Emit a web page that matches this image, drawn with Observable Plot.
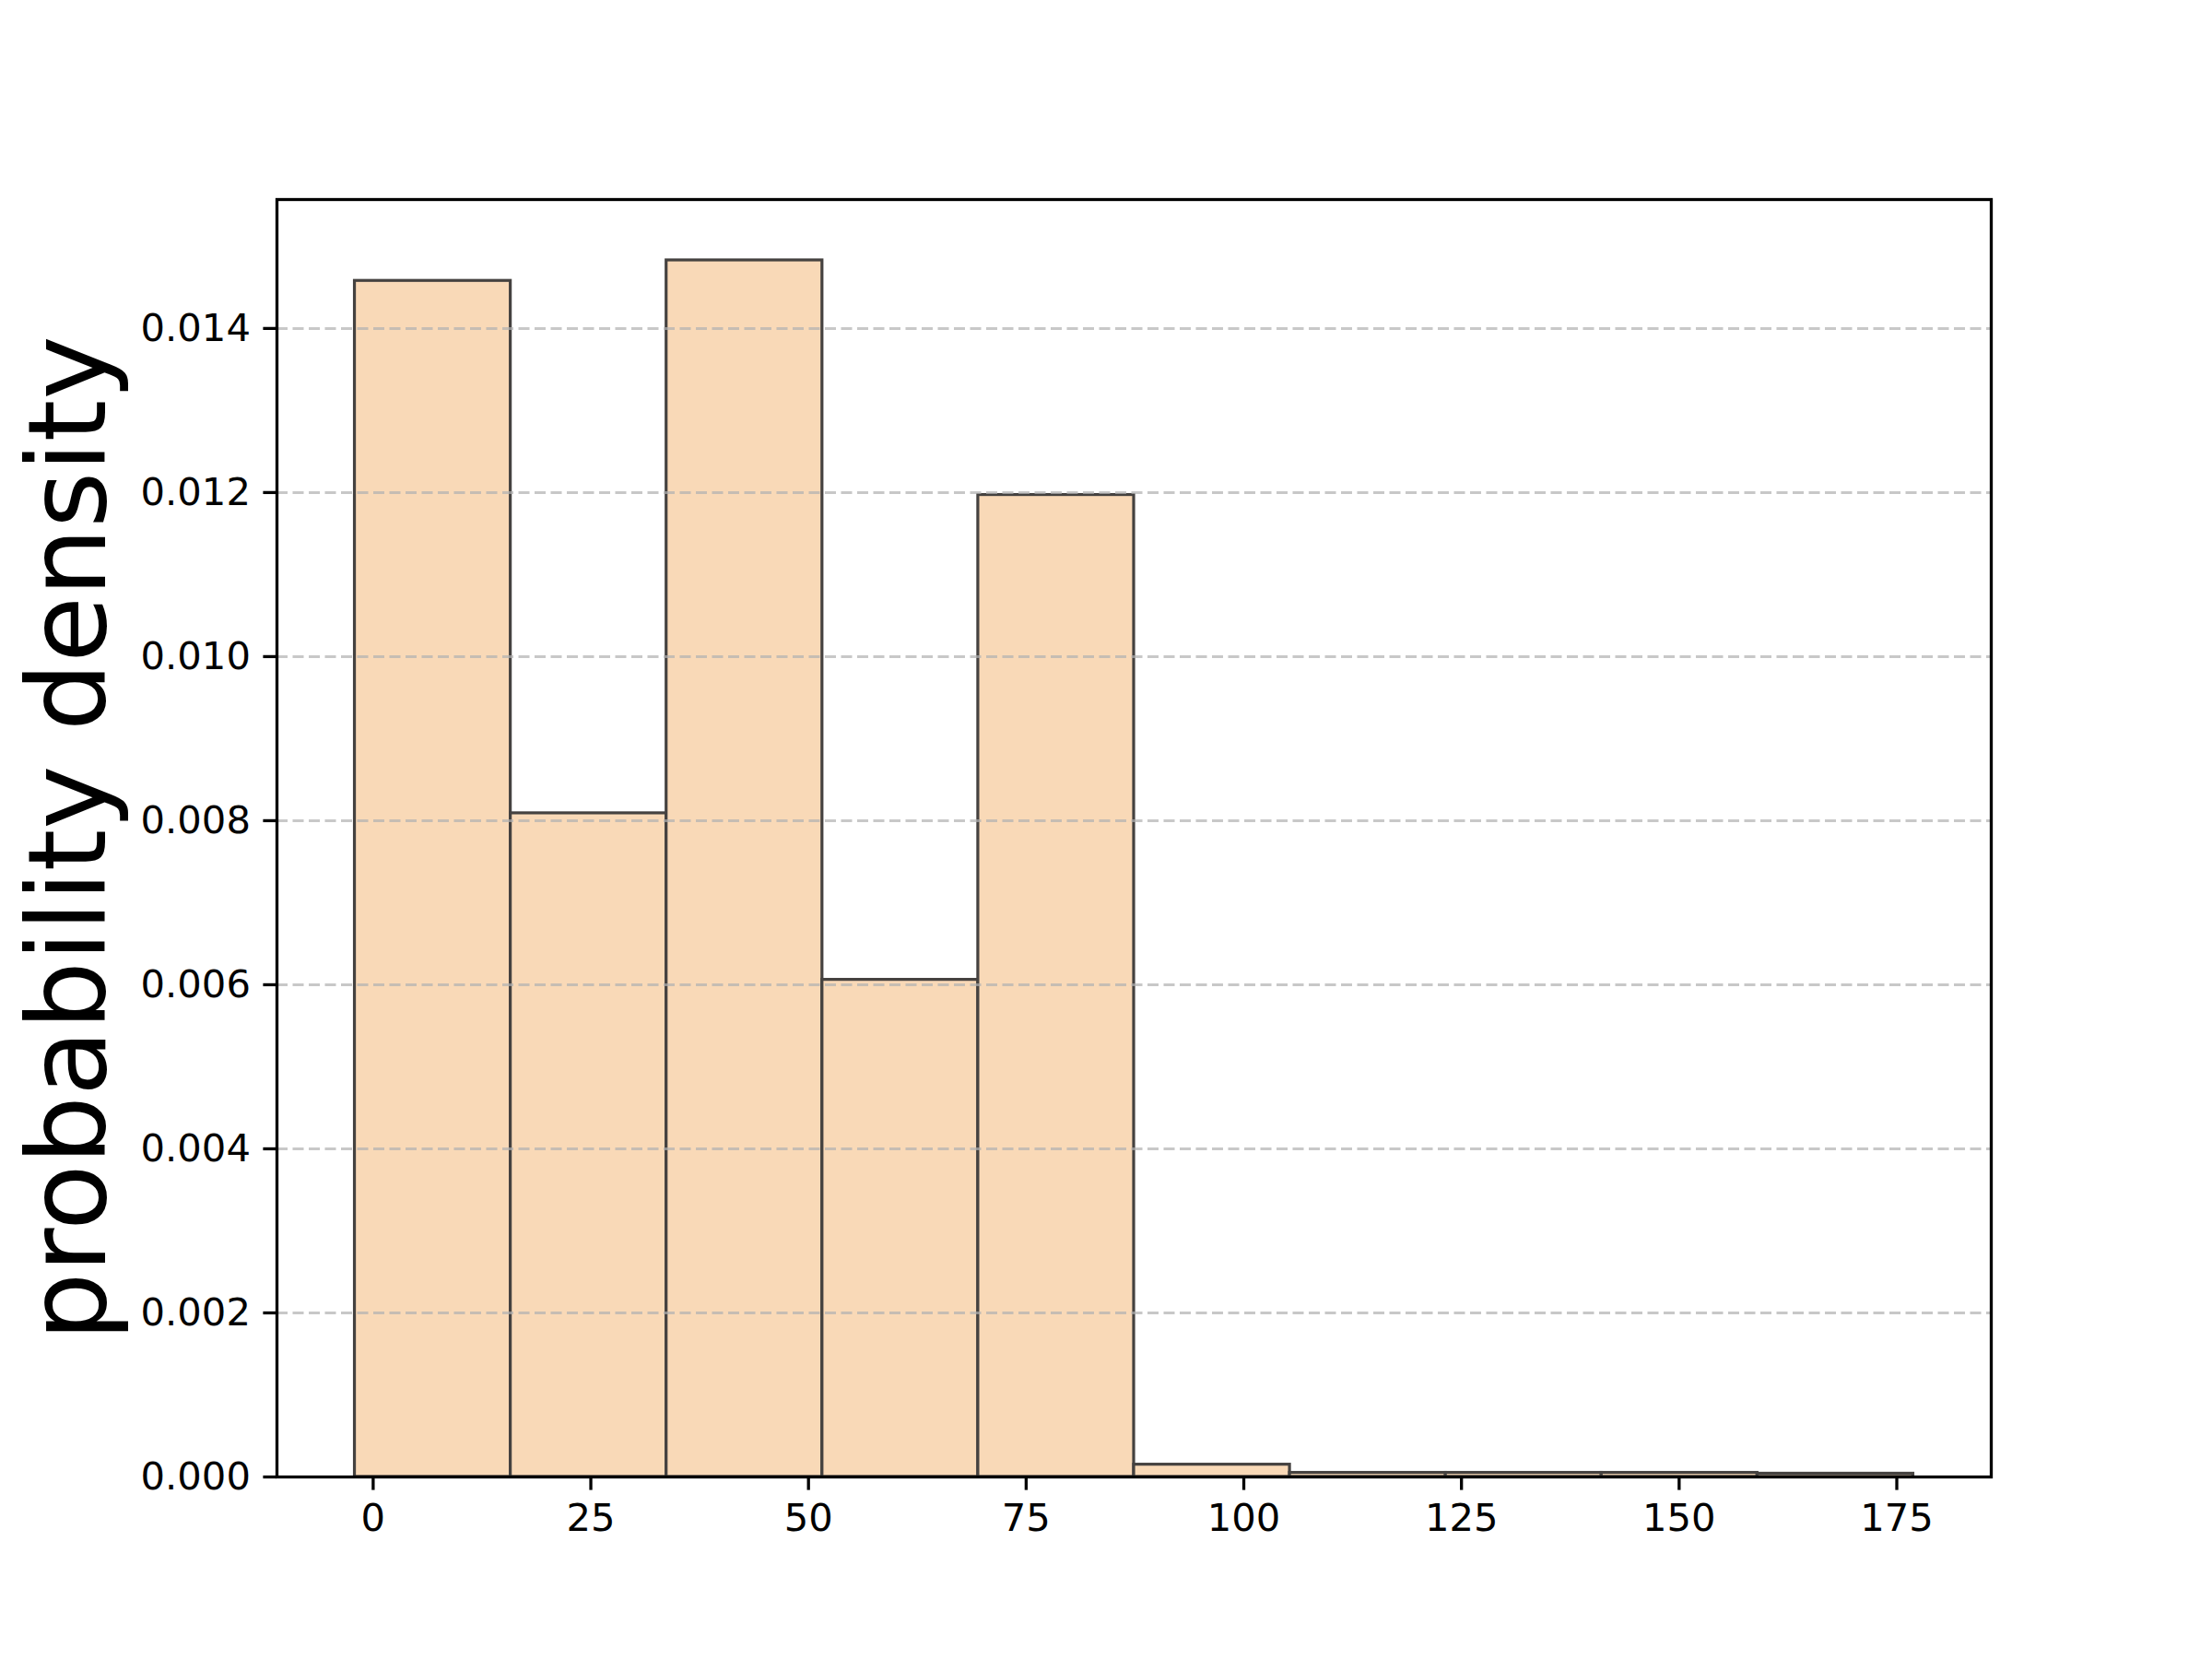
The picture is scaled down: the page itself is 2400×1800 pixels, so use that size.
<!DOCTYPE html>
<html>
<head>
<meta charset="utf-8">
<script src="https://cdn.jsdelivr.net/npm/d3@7"></script>
<script src="https://cdn.jsdelivr.net/npm/@observablehq/plot@0.6"></script>
<style>
  html, body { margin: 0; padding: 0; background: #fff; }
  svg { display: block; }
</style>
</head>
<body>
<div id="chart"></div>
<script>
const binEdges = [-2.1, 15.8, 33.7, 51.6, 69.5, 87.4, 105.3, 123.2, 141.1, 159.0, 176.9];
const densities = [0.01458, 0.00809, 0.01483, 0.00606, 0.01197, 0.00015, 0.00005, 0.00005, 0.00005, 0.00004];
const xTicks = [0, 25, 50, 75, 100, 125, 150, 175];
const yTicks = [0, 0.002, 0.004, 0.006, 0.008, 0.010, 0.012, 0.014];
const yLabel = "probability density";

const bins = densities.map((d, i) => ({x1: binEdges[i], x2: binEdges[i + 1], y: d}));
const span = binEdges[binEdges.length - 1] - binEdges[0];
const xDomain = [binEdges[0] - 0.05 * span, binEdges[binEdges.length - 1] + 0.05 * span];
const yDomain = [0, d3.max(densities) * 1.05];

const font = "DejaVu Sans, sans-serif";

const chart = Plot.plot({
  width: 2400,
  height: 1800,
  marginLeft: 300,
  marginRight: 240,
  marginTop: 216,
  marginBottom: 198,
  style: {fontFamily: font, background: "#fff", color: "#000"},
  x: {domain: xDomain},
  y: {domain: yDomain},
  marks: [
    Plot.rectY(bins, {x1: "x1", x2: "x2", y1: 0, y2: "y", fill: "#F9D9B7", stroke: "#454240", strokeWidth: 3.2}),
    Plot.ruleY(yTicks.slice(1), {stroke: "#b0b0b0", strokeOpacity: 0.7, strokeWidth: 3, strokeDasharray: "12,5.5"}),
    Plot.frame({stroke: "#000", strokeWidth: 3.3}),
    Plot.axisX({ticks: xTicks, tickFormat: d3.format("d"), fontSize: 41.7, tickSize: 14.6, tickPadding: 14, strokeWidth: 3.3, label: null, fontFamily: font, fill: "#000"}),
    Plot.axisY({ticks: yTicks, tickFormat: d3.format(".3f"), fontSize: 41.7, tickSize: 14.6, tickPadding: 14, strokeWidth: 3.3, label: null, fontFamily: font, fill: "#000"}),
    Plot.text([yLabel], {frameAnchor: "left", rotate: -90, dx: -224, fontSize: 117, fontFamily: font, fill: "#000", textAnchor: "middle", lineAnchor: "middle"})
  ]
});
document.getElementById("chart").appendChild(chart);
</script>
</body>
</html>
